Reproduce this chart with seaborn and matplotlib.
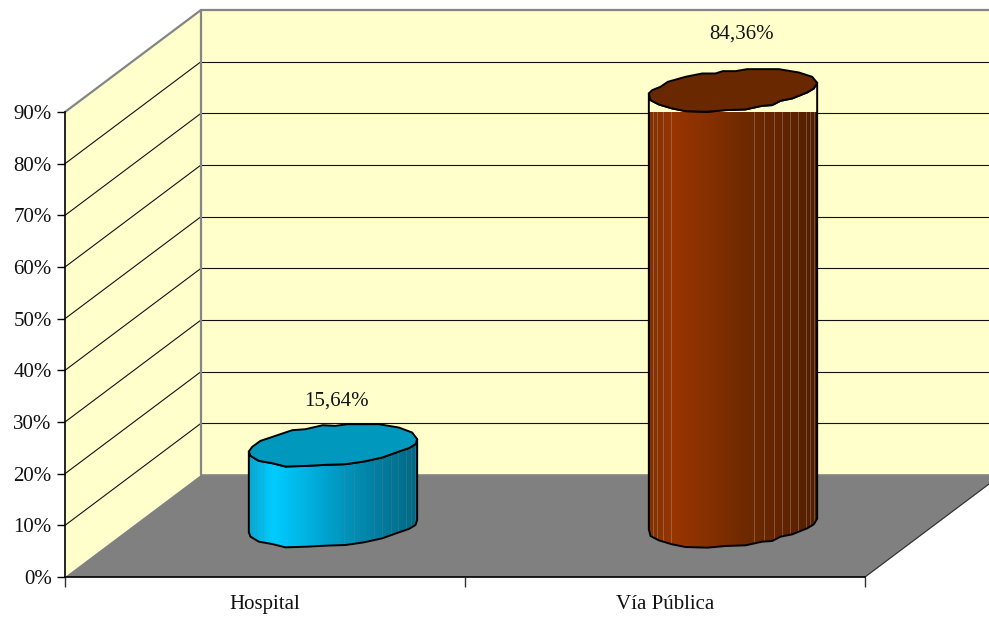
import numpy as np
import matplotlib
matplotlib.use("Agg")
import matplotlib.pyplot as plt
import seaborn as sns
from matplotlib.patches import Polygon, PathPatch
from matplotlib.path import Path
from matplotlib.transforms import IdentityTransform

categories = ["Hospital", "Vía Pública"]
values = [15.64, 84.36]
y_ticks = [0, 10, 20, 30, 40, 50, 60, 70, 80, 90]

sns.set_style("white")
plt.rcParams["font.family"] = ["Liberation Serif", "DejaVu Serif"]
W, H, DPI = 989, 619, 100
INK = "#111111"
fig = plt.figure(figsize=(W / DPI, H / DPI), dpi=DPI)
ax = fig.add_axes([65 / W, (H - 577) / H, 800 / W, 465 / H])

sns.barplot(x=categories, y=values, hue=categories,
            palette=["#00A0D0", "#8A3200"], legend=False, width=0.42,
            saturation=1, ax=ax)
bars = sorted([p for p in ax.patches], key=lambda p: p.get_x())
ax.set_xlim(-0.5, 1.5)
ax.set_ylim(0, 90)
ax.set_autoscale_on(False)
ax.patch.set_visible(False)
fig.canvas.draw()

DX, DY = 136, 102


def P(x, y, d=0.0):
    a = ax.transData.transform((x, y))
    return (a[0] + DX * d, a[1] + DY * d)


ID = IdentityTransform()
RIGHT = 1.5
LEFT = -0.5
WALL = "#FFFFCC"
FLOOR = "#808080"
EDGE = "#858585"


def poly(pts, **kw):
    p = Polygon(pts, closed=True, transform=ID, clip_on=False, **kw)
    ax.add_patch(p)
    return p


def seg(a, b, **kw):
    ax.plot([a[0], b[0]], [a[1], b[1]], transform=ID, clip_on=False, **kw)


# walls and floor
poly([P(LEFT, 0), P(LEFT, 90), P(LEFT, 90, 1), P(LEFT, 0, 1)], fc=WALL, ec="none", zorder=0.5)
poly([P(LEFT, 0, 1), P(LEFT, 90, 1), P(RIGHT, 90, 1), P(RIGHT, 0, 1)], fc=WALL, ec="none", zorder=0.5)
poly([P(LEFT, 0), P(RIGHT, 0), P(RIGHT, 0, 1), P(LEFT, 0, 1)], fc=FLOOR, ec="none", zorder=0.6)

# gridlines on both walls
for v in y_ticks[1:-1]:
    seg(P(LEFT, v), P(LEFT, v, 1), color=INK, lw=0.8, zorder=0.8)
    seg(P(LEFT, v, 1), P(RIGHT, v, 1), color=INK, lw=0.8, zorder=0.8)

# wall borders
seg(P(LEFT, 90), P(LEFT, 90, 1), color=EDGE, lw=1.6, zorder=0.9)
seg(P(LEFT, 90, 1), P(RIGHT, 90, 1), color=EDGE, lw=1.6, zorder=0.9)
seg(P(LEFT, 0, 1), P(LEFT, 90, 1), color=EDGE, lw=1.6, zorder=0.9)
seg(P(LEFT, 0, 1), P(RIGHT, 0, 1), color=EDGE, lw=1.2, zorder=0.9)
seg(P(RIGHT, 0), P(RIGHT, 0, 1), color="#333333", lw=0.9, zorder=0.9)

# cylinder cap outlines: pixel offsets from the cap centre, left tip -> over the top -> right tip -> back
cap_traces = [
    [(40, 122), (50, 108), (75, 90), (120, 75), (170, 58), (210, 55), (262, 43), (300, 45), (335, 40),
     (430, 40), (490, 50), (530, 65), (545, 85),
     (540, 100), (520, 112), (490, 122), (440, 140), (385, 152), (330, 160), (270, 162), (215, 165),
     (150, 167), (110, 157), (70, 150), (45, 135)],
    [(40, 100), (50, 90), (75, 80), (97, 65), (150, 50), (200, 40), (240, 40), (262, 33), (300, 33),
     (335, 27), (430, 27), (490, 37), (530, 50), (545, 68),
     (535, 85), (515, 97), (470, 115), (435, 122), (410, 135), (380, 137), (330, 148), (270, 150),
     (215, 155), (150, 153), (110, 145), (70, 133), (45, 120)],
]
cap_centres = [(292.5, 103), (292.5, 90)]
right_tip = [12, 13]
cap_colors = ["#0099BD", "#692800"]
gradients = [
    [(0, 170, 215), (0, 204, 255), (0, 178, 225), (0, 150, 190), (0, 122, 155), (0, 105, 135)],
    [(128, 48, 0), (153, 53, 0), (135, 48, 0), (112, 42, 0), (98, 36, 0), (82, 30, 0)],
]
grad_stops = [0.0, 0.14, 0.35, 0.55, 0.8, 1.0]
stripes = [[52, 65, 82, 322, 352, 412, 437, 462, 485, 507, 522, 535],
           [52, 65, 82, 107, 352, 382, 412, 437, 460, 485, 507, 520, 532]]
label_lift = [(3, 44), (9, 56)]

for i, bar in enumerate(bars):
    cx = bar.get_x() + bar.get_width() / 2
    h = bar.get_height()
    top = np.array(P(cx, h, 0.5))
    base = np.array(P(cx, 0, 0.5))
    zc = cap_centres[i]
    cap = np.array([((zx - zc[0]) / 3.0, (zc[1] - zy) / 3.0) for zx, zy in cap_traces[i]])
    k = right_tip[i]
    lower = np.vstack([cap[k:], cap[:1]])  # right tip -> left tip along the front
    body = np.vstack([lower + top, (lower + base)[::-1]])
    body_path = Path(np.vstack([body, body[:1]]), closed=True)

    bar.set_transform(ID)
    l, r = body[:, 0].min(), body[:, 0].max()
    b_, t_ = body[:, 1].min(), body[:, 1].max()
    bar.set_bounds(l, b_, r - l, t_ - b_)
    bar.set_clip_on(True)
    bar.set_clip_path(body_path, ID)
    bar.set_zorder(3)

    # horizontal shading across the cylinder
    n = int(round(r - l))
    fr = np.linspace(0, 1, n)
    col = np.stack([np.interp(fr, grad_stops, [c[j] for c in gradients[i]]) for j in range(3)], axis=1)
    for z in stripes[i]:
        c = int(round((z - 40) / 3.0))
        if 0 <= c < n:
            col[c] = col[c] * 0.72 + np.array([255, 255, 255]) * 0.28 * (0.5 if i == 0 else 0.8)
    img = ax.imshow(col[None, :, :].astype(np.uint8), extent=(l, r, b_, t_), aspect="auto",
                    transform=ID, interpolation="nearest", zorder=3.1, clip_on=True)
    img.set_clip_path(body_path, ID)

    ax.add_patch(PathPatch(body_path, fc="none", ec="black", lw=1.4, transform=ID, clip_on=False,
                           zorder=3.2, joinstyle="round"))
    ax.add_patch(Polygon(cap + top, closed=True, fc=cap_colors[i], ec="black", lw=1.4, transform=ID,
                         clip_on=False, zorder=3.3, joinstyle="round"))
    ax.text(top[0] + label_lift[i][0], top[1] + label_lift[i][1],
            f"{h:.2f}%".replace(".", ","), transform=ID, ha="center", va="center",
            fontsize=15, color=INK, zorder=5)

ax.set_xlim(-0.5, 1.5)
ax.set_ylim(0, 90)

# axes, ticks and labels
sns.despine(ax=ax, top=True, right=True)
for s in ("left", "bottom"):
    ax.spines[s].set_color("black")
    ax.spines[s].set_linewidth(1.2)
    ax.spines[s].set_zorder(4)
ax.set_yticks(y_ticks)
ax.set_yticklabels([f"{v}%" for v in y_ticks], fontsize=15, color=INK)
ax.set_xticks([0, 1])
ax.set_xticklabels(categories, fontsize=15, color=INK)
ax.set_xticks([-0.5, 0.5, 1.5], minor=True)
ax.tick_params(axis="y", which="major", left=True, length=5.5, width=1, color="black", pad=4)
ax.tick_params(axis="x", which="major", bottom=False, length=0, pad=13)
ax.tick_params(axis="x", which="minor", bottom=True, length=7, width=1, color="#333333")
ax.set_xlabel("")
ax.set_ylabel("")

fig.savefig("out.png", dpi=DPI, facecolor="white")
